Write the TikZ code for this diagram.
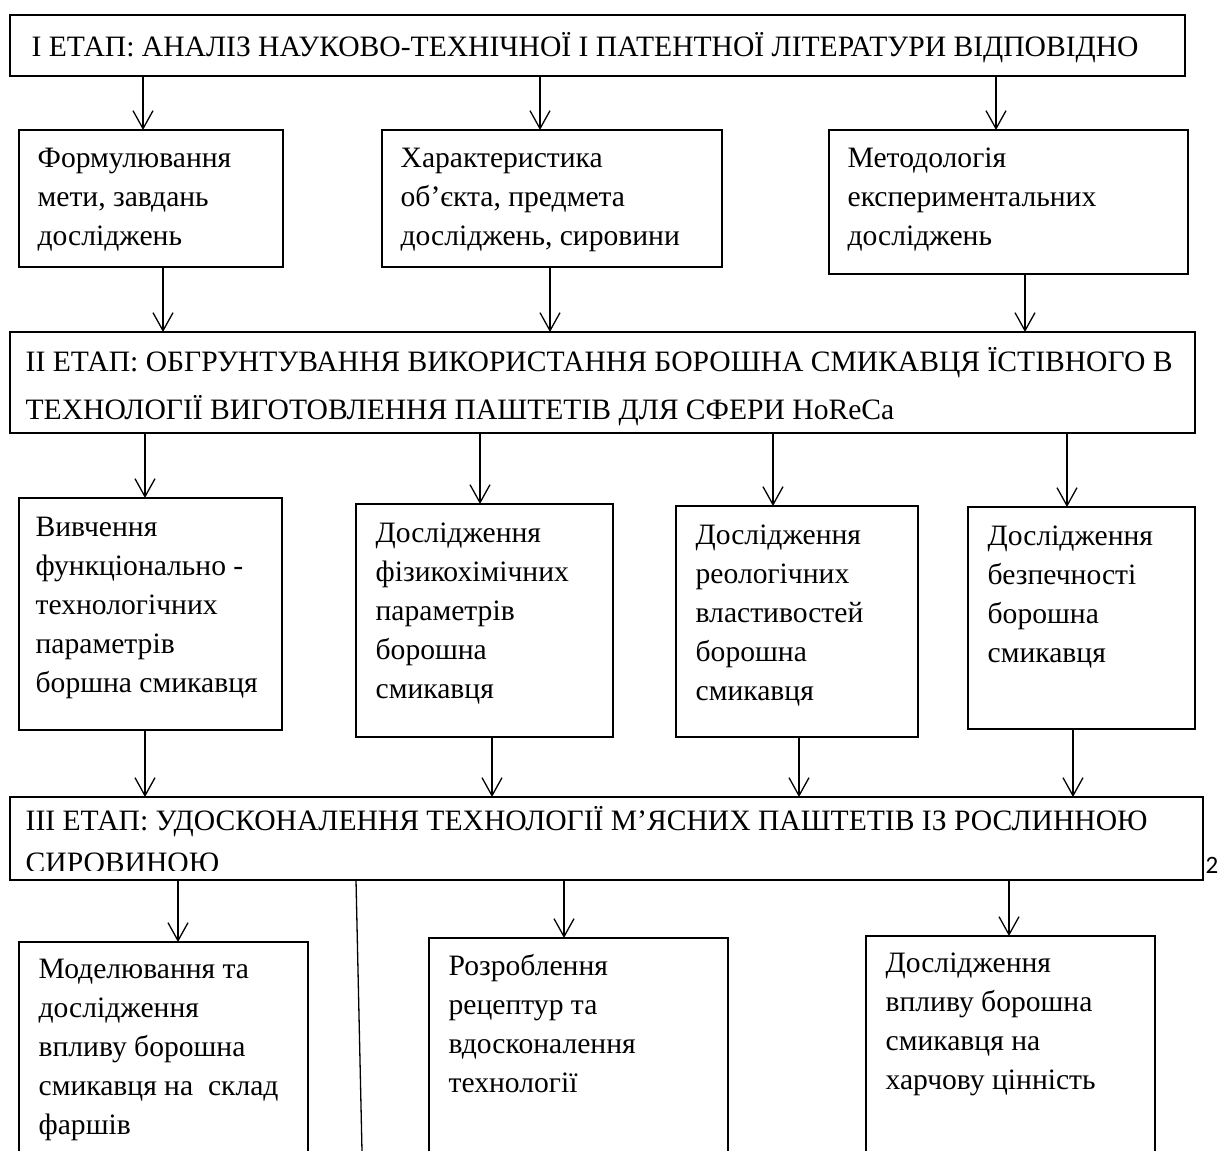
\documentclass[tikz,border=0pt]{standalone}
\usepackage{fontspec}
\setmainfont{Liberation Serif}
\newfontfamily\pagenofont{Carlito}
\usetikzlibrary{positioning,fit,arrows.meta}

\begin{document}
\begin{tikzpicture}[x=0.5pt, y=-0.5pt, line width=0.65pt,
    box/.style={draw, inner sep=0pt, outer sep=0pt},
    boxtext/.style={align=left, inner sep=0pt, anchor=north west, font=\fontsize{14.8}{19.5}\selectfont,
      execute at begin node={\rule{0pt}{15pt}}},
    arr/.style={-{Straight Barb[length=9pt, width=10pt]}}]
        \useasboundingbox (0,0) rectangle (1221,1151);
        \clip (0,0) rectangle (1221,1151);

        % stage I
        \node [box, fit={(10,15) (1185,76)}] (S1) {};
        \node [boxtext] (S1Text) at ([shift={(21,11)}]S1.north west) {І ЕТАП: АНАЛІЗ НАУКОВО-ТЕХНІЧНОЇ І ПАТЕНТНОЇ ЛІТЕРАТУРИ ВІДПОВІДНО};

        \node [box, fit={(19,130) (283,267)}] (Aim) {};
        \node [boxtext] (AimText) at ([shift={(18,17)}]Aim.north west) {Формулювання\\мети, завдань\\досліджень};
        \node [box, fit={(382,130) (722,267)}] (Obj) {};
        \node [boxtext] (ObjText) at ([shift={(18,17)}]Obj.north west) {Характеристика\\об’єкта, предмета\\досліджень, сировини};
        \node [box, fit={(829,130) (1188,274)}] (Meth) {};
        \node [boxtext] (MethText) at ([shift={(18,17)}]Meth.north west) {Методологія\\експериментальних\\досліджень};

        \draw [arr] (S1.south -| 143,0) -- (Aim.north -| 143,0);
        \draw [arr] (S1.south -| 540,0) -- (Obj.north -| 540,0);
        \draw [arr] (S1.south -| 996,0) -- (Meth.north -| 996,0);

        % stage II
        \node [box, fit={(10,332) (1195,433)}] (S2) {};
        \node [boxtext, font=\fontsize{14.8}{24}\selectfont] (S2Text) at ([shift={(15,15)}]S2.north west) {II ЕТАП: ОБГРУНТУВАННЯ ВИКОРИСТАННЯ БОРОШНА СМИКАВЦЯ ЇСТІВНОГО В\\ТЕХНОЛОГІЇ ВИГОТОВЛЕННЯ ПАШТЕТІВ ДЛЯ СФЕРИ HoReCa};

        \draw [arr] (Aim.south -| 163,0) -- (S2.north -| 163,0);
        \draw [arr] (Obj.south -| 550,0) -- (S2.north -| 550,0);
        \draw [arr] (Meth.south -| 1025,0) -- (S2.north -| 1025,0);

        \node [box, fit={(19,498) (282,730)}] (Func) {};
        \node [boxtext] (FuncText) at ([shift={(16,18)}]Func.north west) {Вивчення\\функціонально -\\технологічних\\параметрів\\боршна смикавця};
        \node [box, fit={(356,504) (613,737)}] (Phys) {};
        \node [boxtext] (PhysText) at ([shift={(19,18)}]Phys.north west) {Дослідження\\фізикохімічних\\параметрів\\борошна\\смикавця};
        \node [box, fit={(676,506) (918,737)}] (Rheo) {};
        \node [boxtext] (RheoText) at ([shift={(19,18)}]Rheo.north west) {Дослідження\\реологічних\\властивостей\\борошна\\смикавця};
        \node [box, fit={(968,507) (1195,729)}] (Safe) {};
        \node [boxtext] (SafeText) at ([shift={(19,18)}]Safe.north west) {Дослідження\\безпечності\\борошна\\смикавця};

        \draw [arr] (S2.south -| 145,0) -- (Func.north -| 145,0);
        \draw [arr] (S2.south -| 480,0) -- (Phys.north -| 480,0);
        \draw [arr] (S2.south -| 773,0) -- (Rheo.north -| 773,0);
        \draw [arr] (S2.south -| 1067,0) -- (Safe.north -| 1067,0);

        % stage III
        \node [box, fit={(10,797) (1203,880)}] (S3) {};
        \begin{scope}
          \clip (S3.north west) rectangle ([yshift=5pt]S3.south east);
          \node [boxtext, font=\fontsize{14.8}{21}\selectfont] (S3Text) at ([shift={(15,9)}]S3.north west) {III ЕТАП: УДОСКОНАЛЕННЯ ТЕХНОЛОГІЇ М’ЯСНИХ ПАШТЕТІВ ІЗ РОСЛИННОЮ\\СИРОВИНОЮ};
        \end{scope}
        \node [anchor=base west, inner sep=0pt, font=\pagenofont\fontsize{12.5}{15}\selectfont] (PageNo) at (1205,873) {2};

        \draw [arr] (Func.south -| 145,0) -- (S3.north -| 145,0);
        \draw [arr] (Phys.south -| 492,0) -- (S3.north -| 492,0);
        \draw [arr] (Rheo.south -| 799,0) -- (S3.north -| 799,0);
        \draw [arr] (Safe.south -| 1073,0) -- (S3.north -| 1073,0);

        \node [box, fit={(19,942) (308,1180)}] (Model) {};
        \node [boxtext] (ModelText) at ([shift={(19,16)}]Model.north west) {Моделювання та\\дослідження\\впливу борошна\\смикавця на\ \ склад\\фаршів};
        \node [box, fit={(429,938) (728,1180)}] (Recipe) {};
        \node [boxtext] (RecipeText) at ([shift={(19,16)}]Recipe.north west) {Розроблення\\рецептур та\\вдосконалення\\технології};
        \node [box, fit={(866,936) (1155,1180)}] (Nutr) {};
        \node [boxtext] (NutrText) at ([shift={(19,16)}]Nutr.north west) {Дослідження\\впливу борошна\\смикавця на\\харчову цінність};

        \coordinate (LineEnd) at (362,1151);
        \draw (S3.south -| 356,0) -- (LineEnd);
        \draw [arr] (S3.south -| 178,0) -- (Model.north -| 178,0);
        \draw [arr] (S3.south -| 564,0) -- (Recipe.north -| 564,0);
        \draw [arr] (S3.south -| 1009,0) -- (Nutr.north -| 1009,0);
      \end{tikzpicture}
\end{document}
